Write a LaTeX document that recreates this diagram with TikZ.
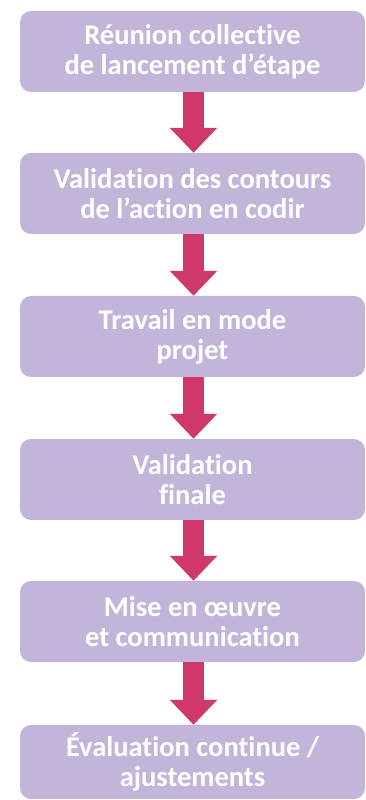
\documentclass[tikz,border=0pt]{standalone}
\usepackage{fontspec}
\setmainfont{Carlito}[Ligatures={NoCommon}]
\usetikzlibrary{arrows.meta}
\definecolor{boxcol}{HTML}{C3B4D9}
\definecolor{arrcol}{HTML}{D0376B}
\tikzset{
  stepbox/.style={fill=boxcol, draw=none, rounded corners=11pt, minimum width=345pt,
    minimum height=81pt, inner sep=0pt, align=center, text=white,
    font=\fontsize{28.5}{30}\selectfont\bfseries},
  flowarrow/.style={draw=arrcol, line width=21pt, -{Triangle[width=46pt,length=25pt,fill=arrcol]}}
}
\begin{document}
\begin{tikzpicture}[x=1pt,y=1pt]
\useasboundingbox (0,0) rectangle (366,800);
\node[stepbox] (s1) at (192.5,{800-51.5}) {Réunion collective\\de lancement d’étape};
\node[stepbox] (s2) at (192.5,{800-193.5}) {Validation des contours\\de l’action en codir};
\node[stepbox] (s3) at (192.5,{800-336.5}) {Travail en mode\\projet};
\node[stepbox] (s4) at (192.5,{800-479.5}) {Validation\\finale};
\node[stepbox] (s5) at (192.5,{800-621.5}) {Mise en œuvre\\et communication};
\node[stepbox, minimum height=74pt] (s6) at (192.5,{800-762}) {Évaluation continue /\\ajustements};
\draw[flowarrow] ([xshift=1pt]s1.south) -- ([xshift=1pt]s2.north);
\draw[flowarrow] ([xshift=1pt]s2.south) -- ([xshift=1pt]s3.north);
\draw[flowarrow] ([xshift=1pt]s3.south) -- ([xshift=1pt]s4.north);
\draw[flowarrow] ([xshift=1pt]s4.south) -- ([xshift=1pt]s5.north);
\draw[flowarrow] ([xshift=1pt]s5.south) -- ([xshift=1pt]s6.north);
\end{tikzpicture}
\end{document}
